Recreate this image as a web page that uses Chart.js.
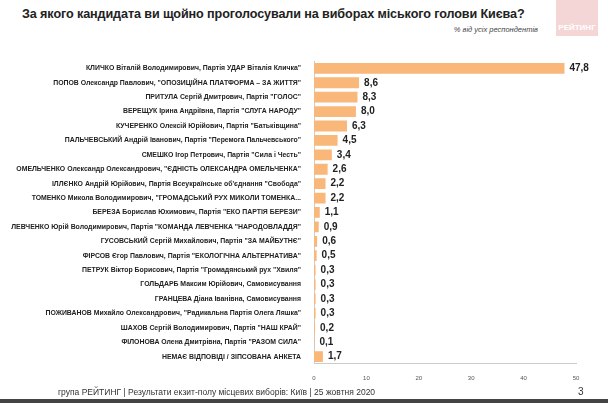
<!DOCTYPE html>
<html><head><meta charset="utf-8">
<script src="https://cdn.jsdelivr.net/npm/chart.js@4"></script>
<style>
body{margin:0;width:608px;height:403px;background:#fff;position:relative;overflow:hidden;font-family:"Liberation Sans",Arial,sans-serif}
#t{position:absolute;left:22px;top:7px;font-size:12.6px;font-weight:bold;color:#222;letter-spacing:-0.1px}
#logo{position:absolute;left:556px;top:0;width:42px;background:#f4d6d6;color:#fff;font-size:8px;font-weight:bold;text-align:center;line-height:56px;height:36px;overflow:hidden}
#sub{position:absolute;right:70px;top:25px;font-size:7.5px;font-style:italic;color:#444}
#f{position:absolute;left:58px;top:387px;font-size:8.5px;color:#333}
#n{position:absolute;left:578px;top:386px;font-size:10px;color:#333}
#b{position:absolute;left:0;top:399px;width:608px;height:4px;background:#444}
#w{position:absolute;left:0;top:52px;width:608px;height:335px}
</style></head><body>
<div id="t">За якого кандидата ви щойно проголосували на виборах міського голови Києва?</div>
<div id="logo">РЕЙТИНГ</div>
<div id="sub">% від усіх респондентів</div>
<div id="w"><canvas id="c"></canvas></div>
<div id="f">група РЕЙТИНГ | Результати екзит-полу місцевих виборів: Київ | 25 жовтня 2020</div>
<div id="n">3</div>
<div id="b"></div>
<script>
const categories=['КЛИЧКО Віталій Володимирович, Партія УДАР Віталія Кличка"','ПОПОВ Олександр Павлович, "ОПОЗИЦІЙНА ПЛАТФОРМА – ЗА ЖИТТЯ"','ПРИТУЛА Сергій Дмитрович, Партія "ГОЛОС"','ВЕРЕЩУК Ірина Андріївна, Партія "СЛУГА НАРОДУ"','КУЧЕРЕНКО Олексій Юрійович, Партія "Батьківщина"','ПАЛЬЧЕВСЬКИЙ Андрій Іванович, Партія "Перемога Пальчевського"','СМЕШКО Ігор Петрович, Партія "Сила і Честь"','ОМЕЛЬЧЕНКО Олександр Олександрович, "ЄДНІСТЬ ОЛЕКСАНДРА ОМЕЛЬЧЕНКА"','ІЛЛЄНКО Андрій Юрійович, Партія Всеукраїнське об\'єднання "Свобода"','ТОМЕНКО Микола Володимирович, "ГРОМАДСЬКИЙ РУХ МИКОЛИ ТОМЕНКА...','БЕРЕЗА Борислав Юхимович, Партія "ЕКО ПАРТІЯ БЕРЕЗИ"','ЛЕВЧЕНКО Юрій Володимирович, Партія "КОМАНДА ЛЕВЧЕНКА "НАРОДОВЛАДДЯ"','ГУСОВСЬКИЙ Сергій Михайлович, Партія "ЗА МАЙБУТНЄ"','ФІРСОВ Єгор Павлович, Партія "ЕКОЛОГІЧНА АЛЬТЕРНАТИВА"','ПЕТРУК Віктор Борисович, Партія "Громадянський рух "Хвиля"','ГОЛЬДАРБ Максим Юрійович, Самовисування','ГРАНЦЕВА Діана Іванівна, Самовисування','ПОЖИВАНОВ Михайло Олександрович, "Радикальна Партія Олега Ляшка"','ШАХОВ Сергій Володимирович, Партія "НАШ КРАЙ"','ФІЛОНОВА Олена Дмитрівна, Партія "РАЗОМ СИЛА"','НЕМАЄ ВІДПОВІДІ / ЗІПСОВАНА АНКЕТА'];
const values=[47.8,8.6,8.3,8.0,6.3,4.5,3.4,2.6,2.2,2.2,1.1,0.9,0.6,0.5,0.3,0.3,0.3,0.3,0.2,0.1,1.7];
const xTicks=[0,10,20,30,40,50];
const labelsPlugin={id:'vl',afterDatasetsDraw(ch){const c=ch.ctx;const m=ch.getDatasetMeta(0);c.save();c.font='bold 10px "Liberation Sans",Arial';c.fillStyle='#222';c.textBaseline='middle';m.data.forEach((b,i)=>{c.fillText(values[i].toFixed(1).replace('.',','),b.x+5,b.y);});c.restore();}};
new Chart(document.getElementById('c'),{type:'bar',data:{labels:categories,datasets:[{data:values,backgroundColor:'#f9b77a',barPercentage:0.75,categoryPercentage:1}]},
options:{indexAxis:'y',responsive:true,maintainAspectRatio:false,animation:false,
layout:{padding:{top:2,right:32,bottom:2,left:0}},
plugins:{legend:{display:false},tooltip:{enabled:false}},
scales:{y:{afterFit(s){s.width=314;},grid:{display:false},border:{display:true,color:'#ccc'},ticks:{color:'#222',font:{family:'"Liberation Sans Narrow","Liberation Sans",Arial',size:6.9,weight:'bold'},padding:5}},
x:{min:0,max:50,grid:{display:false,drawTicks:true},border:{display:true,color:'#ccc'},afterBuildTicks(s){s.ticks=xTicks.map(v=>({value:v}));},ticks:{color:'#555',font:{size:6},maxRotation:0}}}},
plugins:[labelsPlugin]});
</script></body></html>
